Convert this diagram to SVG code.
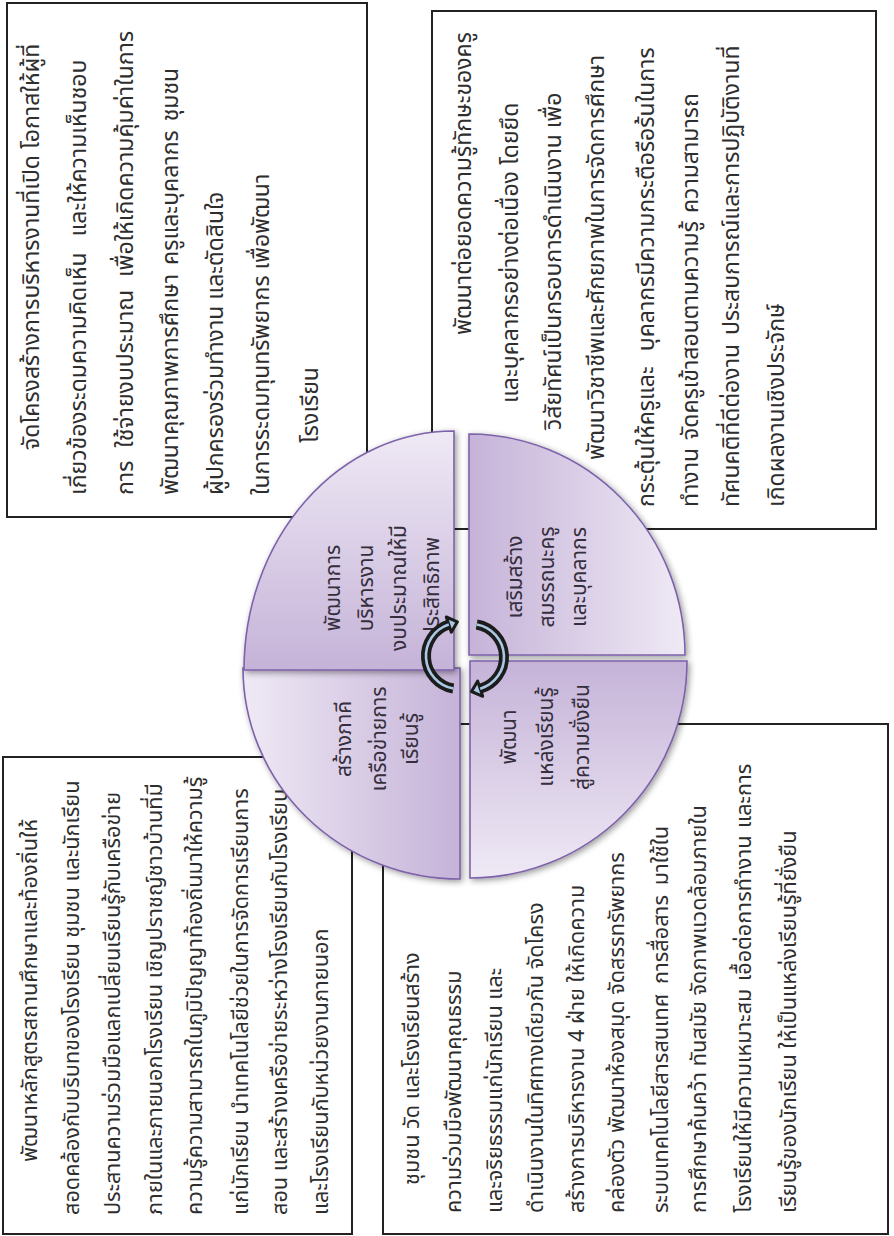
<svg xmlns="http://www.w3.org/2000/svg" width="894" height="1236" viewBox="0 0 894 1236">
<defs>
<style>
.box{fill:#fff;stroke:#222;stroke-width:2}
.t1{font-family:"Noto Sans Thai","Noto Sans","DejaVu Sans",sans-serif;font-size:23px;fill:#2e2e2e}
.t2{font-family:"Noto Sans Thai","Noto Sans","DejaVu Sans",sans-serif;font-size:21.7px;fill:#2e2e2e}
.lb{font-family:"Noto Sans Thai","Noto Sans","DejaVu Sans",sans-serif;font-size:21px;fill:#352e3c;text-anchor:middle}
.q{stroke:#7d62aa;stroke-width:1.6;filter:url(#sh)}
.ab{fill:none;stroke:#1c1c1c;stroke-width:10}
.ai{fill:none;stroke:#a9c8e4;stroke-width:2.6}
.ah{fill:#a9c8e4;stroke:#1c1c1c;stroke-width:3;stroke-linejoin:round}
</style>
<filter id="sh" x="-10%" y="-10%" width="130%" height="130%">
<feDropShadow dx="2" dy="2" stdDeviation="3" flood-color="#000" flood-opacity="0.4"/>
</filter>
<linearGradient id="gTL" gradientUnits="userSpaceOnUse" x1="0" y1="431" x2="0" y2="670"><stop offset="0" stop-color="#efe9f5"/><stop offset="1" stop-color="#c5b3d8"/></linearGradient>
<linearGradient id="gTR" gradientUnits="userSpaceOnUse" x1="469" y1="0" x2="684" y2="0"><stop offset="0" stop-color="#c5b3d8"/><stop offset="1" stop-color="#efe9f5"/></linearGradient>
<linearGradient id="gBR" gradientUnits="userSpaceOnUse" x1="0" y1="661" x2="0" y2="878"><stop offset="0" stop-color="#c5b3d8"/><stop offset="1" stop-color="#efe9f5"/></linearGradient>
<linearGradient id="gBL" gradientUnits="userSpaceOnUse" x1="460" y1="0" x2="243" y2="0"><stop offset="0" stop-color="#c5b3d8"/><stop offset="1" stop-color="#efe9f5"/></linearGradient>
</defs>

<g id="box-budget" transform="translate(0,1236) rotate(-90)">
<rect class="box" x="719" y="7" width="514" height="360"/>
<text class="t1" x="786" y="39">จัดโครงสร้างการบริหารงานที่เปิด โอกาสให้ผู้ที่</text>
<text class="t1" x="741" y="86" word-spacing="10">เกี่ยวข้องระดมความคิดเห็น และให้ความเห็นชอบ</text>
<text class="t1" x="741" y="133" word-spacing="7">การ ใช้จ่ายงบประมาณ เพื่อให้เกิดความคุ้มค่าในการ</text>
<text class="t1" x="741" y="178" word-spacing="3">พัฒนาคุณภาพการศึกษา  ครูและบุคลากร ชุมชน</text>
<text class="t1" x="741" y="223">ผู้ปกครองร่วมทำงาน และตัดสินใจ</text>
<text class="t1" x="741" y="269">ในการระดมทุนทรัพยากร เพื่อพัฒนา</text>
<text class="t1" x="793" y="318">โรงเรียน</text>
</g>

<g id="box-staff" transform="translate(0,1236) rotate(-90)">
<rect class="box" x="707" y="432" width="518" height="444"/>
<text class="t1" x="901" y="471">พัฒนาต่อยอดความรู้ทักษะของครู</text>
<text class="t1" x="833" y="518">และบุคลากรอย่างต่อเนื่อง โดยยึด</text>
<text class="t1" x="806" y="561">วิสัยทัศน์เป็นกรอบการดำเนินงาน  เพื่อ</text>
<text class="t1" x="776" y="604">พัฒนาวิชาชีพและศักยภาพในการจัดการศึกษา</text>
<text class="t1" x="729" y="654" word-spacing="9">กระตุ้นให้ครูและ บุคลากรมีความกระตือรือร้นในการ</text>
<text class="t1" x="729" y="698" word-spacing="2">ทำงาน  จัดครูเข้าสอนตามความรู้ ความสามารถ</text>
<text class="t1" x="729" y="739" word-spacing="3">ทัศนคติที่ดีต่องาน ประสบการณ์และการปฏิบัติงานที่</text>
<text class="t1" x="729" y="784">เกิดผลงานเชิงประจักษ์</text>
</g>

<g id="box-learning-source" transform="translate(0,1236) rotate(-90)">
<rect class="box" x="2" y="383" width="510" height="505"/>
<text class="t2" x="51" y="419">ชุมชน วัด และโรงเรียนสร้าง</text>
<text class="t2" x="23" y="461">ความร่วมมือพัฒนาคุณธรรม</text>
<text class="t2" x="23" y="502">และจริยธรรมแก่นักเรียน และ</text>
<text class="t2" x="23" y="543">ดำเนินงานในทิศทางเดียวกัน  จัดโครง</text>
<text class="t2" x="23" y="584">สร้างการบริหารงาน 4 ฝ่าย ให้เกิดความ</text>
<text class="t2" x="23" y="624">คล่องตัว  พัฒนาห้องสมุด จัดสรรทรัพยากร</text>
<text class="t2" x="23" y="668" word-spacing="4">ระบบเทคโนโลยีสารสนเทศ การสื่อสาร มาใช้ใน</text>
<text class="t2" x="23" y="706">การศึกษาค้นคว้า ทันสมัย  จัดภาพแวดล้อมภายใน</text>
<text class="t2" x="23" y="751" word-spacing="2">โรงเรียนให้มีความเหมาะสม เอื้อต่อการทำงาน และการ</text>
<text class="t2" x="23" y="796">เรียนรู้ของนักเรียน ให้เป็นแหล่งเรียนรู้ที่ยั่งยืน</text>
</g>

<g id="box-network" transform="translate(0,1236) rotate(-90)">
<rect class="box" x="2" y="3" width="477" height="349"/>
<text class="t2" x="74" y="37">พัฒนาหลักสูตรสถานศึกษาและท้องถิ่นให้</text>
<text class="t2" x="21" y="79">สอดคล้องกับบริบทของโรงเรียน ชุมชน และนักเรียน</text>
<text class="t2" x="21" y="120">ประสานความร่วมมือแลกเปลี่ยนเรียนรู้กับเครือข่าย</text>
<text class="t2" x="21" y="162">ภายในและภายนอกโรงเรียน เชิญปราชญ์ชาวบ้านที่มี</text>
<text class="t2" x="21" y="202">ความรู้ความสามารถในภูมิปัญญาท้องถิ่นมาให้ความรู้</text>
<text class="t2" x="21" y="248">แก่นักเรียน นำเทคโนโลยีช่วยในการจัดการเรียนการ</text>
<text class="t2" x="21" y="287">สอน และสร้างเครือข่ายระหว่างโรงเรียนกับโรงเรียน</text>
<text class="t2" x="21" y="328">และโรงเรียนกับหน่วยงานภายนอก</text>
</g>

<g id="q-network">
<path class="q" fill="url(#gBL)" d="M460,668 L460,879 A217,211 0 0 1 243,668 Z"/>
<g transform="translate(0,1236) rotate(-90)">
<text class="lb" x="497" y="351">สร้างภาคี</text>
<text class="lb" x="497" y="386">เครือข่ายการ</text>
<text class="lb" x="497" y="418">เรียนรู้</text>
</g>
</g>

<g id="q-budget">
<path class="q" fill="url(#gTL)" d="M454,670 L244,670 A210,239 0 0 1 454,431 Z"/>
<g transform="translate(0,1236) rotate(-90)">
<text class="lb" x="648" y="340">พัฒนาการ</text>
<text class="lb" x="648" y="373">บริหารงาน</text>
<text class="lb" x="648" y="406">งบประมาณให้มี</text>
<text class="lb" x="648" y="439">ประสิทธิภาพ</text>
</g>
</g>

<g id="q-staff">
<path class="q" fill="url(#gTR)" d="M469,655 L469,434 A216,221 0 0 1 685,655 Z"/>
<g transform="translate(0,1236) rotate(-90)">
<text class="lb" x="659" y="522">เสริมสร้าง</text>
<text class="lb" x="659" y="554">สมรรถนะครู</text>
<text class="lb" x="659" y="586">และบุคลากร</text>
</g>
</g>

<g id="q-learning-source">
<path class="q" fill="url(#gBR)" d="M470,661 L687,661 A217,217 0 0 1 470,878 Z"/>
<g transform="translate(0,1236) rotate(-90)">
<text class="lb" x="499" y="516">พัฒนา</text>
<text class="lb" x="499" y="553">แหล่งเรียนรู้</text>
<text class="lb" x="499" y="589">สู่ความยั่งยืน</text>
</g>
</g>

<g id="connectors">
<path class="ab" d="M453.3,688.5 A33,33 0 0 1 448.8,624.6"/>
<polygon class="ah" points="446.3,617 457.4,621.8 451.3,632.2"/>
<path class="ai" d="M453.3,688.5 A33,33 0 0 1 448.8,624.6"/>
<path class="ab" d="M476.7,624.5 A33,33 0 0 1 480.2,688.7"/>
<polygon class="ah" points="482.7,696.3 471.5,691.5 477.7,681.1"/>
<path class="ai" d="M476.7,624.5 A33,33 0 0 1 480.2,688.7"/>
</g>
</svg>
